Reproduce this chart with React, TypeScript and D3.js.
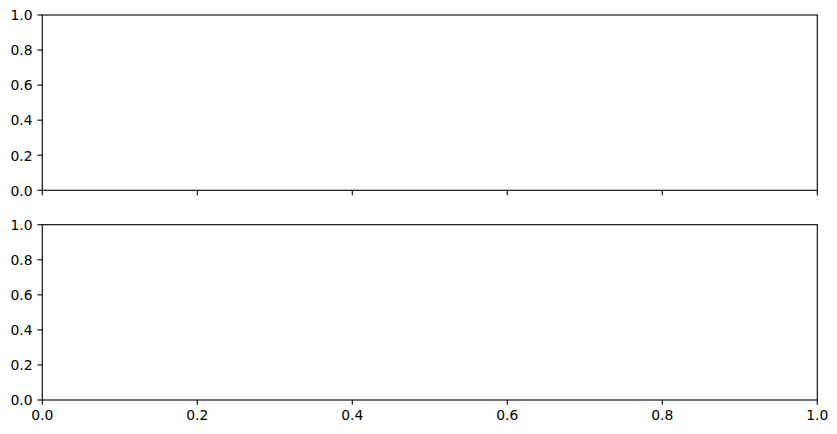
import React from "react";
import * as d3 from "d3";

const xTicks = [0, 0.2, 0.4, 0.6, 0.8, 1.0];
const yTicks = [0, 0.2, 0.4, 0.6, 0.8, 1.0];
const xDomain = [0, 1];
const yDomain = [0, 1];

const W = 837;
const H = 434;
const LEFT = 42.3;
const RIGHT = 817.3;
const PANELS = [
  { top: 15, bottom: 190.3, showXLabels: false },
  { top: 224.7, bottom: 400, showXLabels: true },
];
const FONT = "'DejaVu Sans', sans-serif";
const FS = 13.9;
const TICK = 4.86;
const PAD = 4.86;
const LW = 1.11;

export default function App() {
  const x = d3.scaleLinear().domain(xDomain).range([LEFT, RIGHT]);
  const fmt = d3.format(".1f");
  return (
    <svg
      width={W}
      height={H}
      style={{ position: "absolute", left: 0, top: 0, background: "#fff" }}
    >
      <rect x={0} y={0} width={W} height={H} fill="#fff" />
      {PANELS.map((p, i) => {
        const y = d3.scaleLinear().domain(yDomain).range([p.bottom, p.top]);
        return (
          <g key={i}>
            <rect
              x={LEFT}
              y={p.top}
              width={RIGHT - LEFT}
              height={p.bottom - p.top}
              fill="none"
              stroke="#000"
              strokeWidth={LW}
            />
            {yTicks.map((t) => (
              <g key={"y" + t}>
                <line
                  x1={LEFT - TICK}
                  x2={LEFT}
                  y1={y(t)}
                  y2={y(t)}
                  stroke="#000"
                  strokeWidth={LW}
                />
                <text
                  x={LEFT - TICK - PAD}
                  y={y(t) + 5.3}
                  textAnchor="end"
                  fontFamily={FONT}
                  fontSize={FS}
                  fill="#000"
                >
                  {fmt(t)}
                </text>
              </g>
            ))}
            {xTicks.map((t) => (
              <g key={"x" + t}>
                <line
                  x1={x(t)}
                  x2={x(t)}
                  y1={p.bottom}
                  y2={p.bottom + TICK}
                  stroke="#000"
                  strokeWidth={LW}
                />
                {p.showXLabels && (
                  <text
                    x={x(t)}
                    y={p.bottom + TICK + PAD + 10.4}
                    textAnchor="middle"
                    fontFamily={FONT}
                    fontSize={FS}
                    fill="#000"
                  >
                    {fmt(t)}
                  </text>
                )}
              </g>
            ))}
          </g>
        );
      })}
    </svg>
  );
}
